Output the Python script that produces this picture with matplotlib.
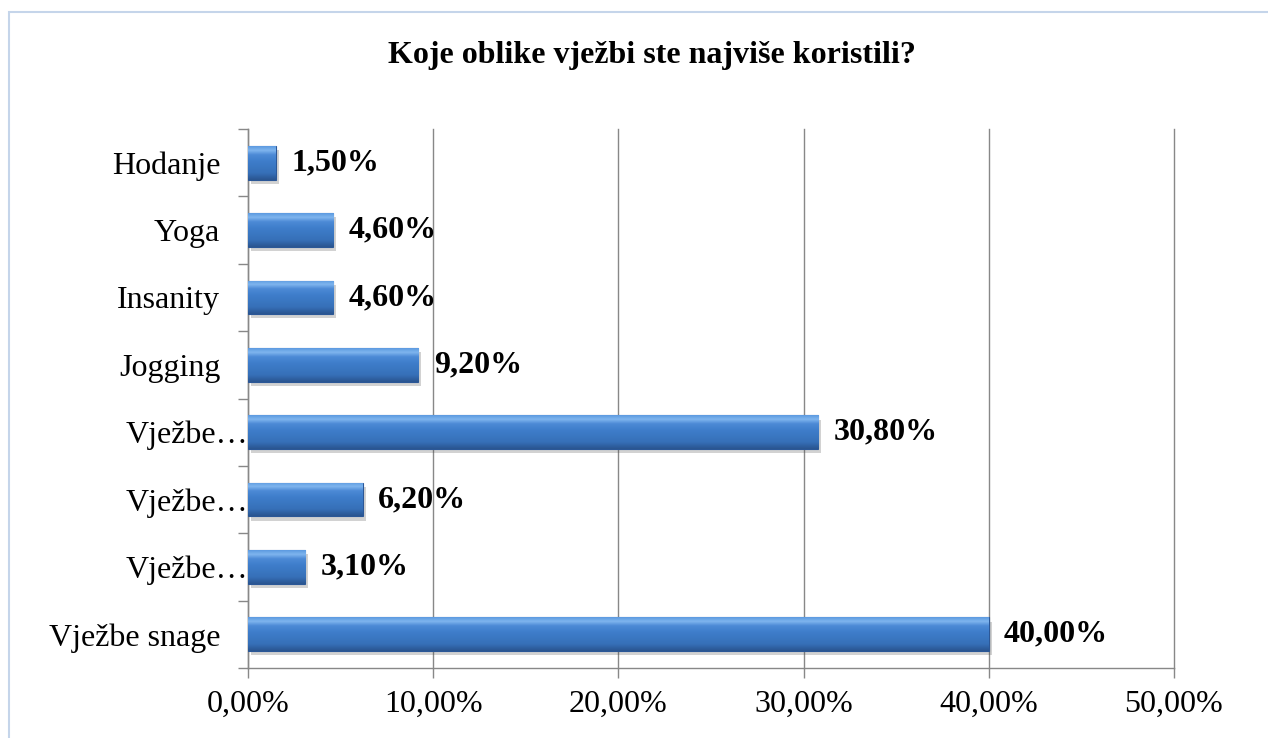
import numpy as np
import matplotlib
matplotlib.use('Agg')
import matplotlib.pyplot as plt
from matplotlib.colors import LinearSegmentedColormap
from matplotlib.patches import Rectangle
from matplotlib.transforms import ScaledTranslation
import matplotlib.patheffects as pe

# ─── Daten ────────────────────────────────────────────────────────────────────
categories = ['Vježbe snage', 'Vježbe…', 'Vježbe…', 'Vježbe…',
              'Jogging', 'Insanity', 'Yoga', 'Hodanje']
values = [40.00, 3.10, 6.20, 30.80, 9.20, 4.60, 4.60, 1.50]
x_ticks = [0, 10, 20, 30, 40, 50]
title = 'Koje oblike vježbi ste najviše koristili?'

plt.rcParams['font.family'] = ['Liberation Serif', 'DejaVu Serif']
FS = 23

fig = plt.figure(figsize=(12.68, 7.38), dpi=100)
fig.patch.set_facecolor('white')

# heller blauer Rahmen wie im Excel-Export
fig.patches.append(Rectangle((9 / 1268, -0.01), 1.2, 1 - 12 / 738 + 0.01,
                             transform=fig.transFigure, fill=False,
                             edgecolor='#c5d5ea', linewidth=1.5))

ax = fig.add_axes([248 / 1268, 1 - 668 / 738, (1174 - 248) / 1268, (668 - 129) / 738])

y = np.arange(len(categories))
bars = ax.barh(y, values, height=0.5, color='none', edgecolor='#2b5797',
               linewidth=0.8, zorder=3,
               path_effects=[pe.SimplePatchShadow(offset=(2, -3), alpha=0.25),
                             pe.Normal()])

# vertikaler Farbverlauf (Bevel-Look)
cmap = LinearSegmentedColormap.from_list(
    'bevel', [(0.0, '#2a5590'), (0.2, '#3670b8'), (0.55, '#3e7dca'),
              (0.75, '#4c8ad6'), (0.88, '#7fb5ee'), (1.0, '#5d9be0')])
grad = np.linspace(0, 1, 64).reshape(-1, 1)
for b in bars:
    x0, y0 = b.get_x(), b.get_y()
    w, h = b.get_width(), b.get_height()
    im = ax.imshow(grad, cmap=cmap, aspect='auto', origin='lower',
                   extent=[x0, x0 + w, y0, y0 + h], zorder=3.5,
                   interpolation='bilinear')
    im.set_clip_path(b)

labels = [f'{v:.2f}%'.replace('.', ',') for v in values]
ax.bar_label(bars, labels=labels, padding=11, fontsize=FS,
             fontweight='bold', color='black')

ax.set_xlim(0, 50)
ax.set_ylim(-0.5, len(categories) - 0.5)
ax.set_xticks(x_ticks)
ax.set_xticklabels([f'{t:.2f}%'.replace('.', ',') for t in x_ticks], fontsize=FS)
ax.set_yticks(y)
ax.set_yticklabels(categories, fontsize=FS)
ax.set_yticks(np.arange(-0.5, len(categories), 1), minor=True)

ax.tick_params(axis='y', which='major', length=0, pad=20)
ax.tick_params(axis='y', which='minor', length=7, color='#888888', width=1)
ax.tick_params(axis='x', which='major', length=7, color='#888888', width=1, pad=9)

# abgeschnittene Excel-Labels ragen bis an die Achse
shift = ScaledTranslation(20 / 72, 0, fig.dpi_scale_trans)
for lbl in ax.get_yticklabels():
    if lbl.get_text().endswith('…'):
        lbl.set_transform(lbl.get_transform() + shift)

ax.grid(axis='x', color='#888888', linewidth=1, zorder=0)
for gl in ax.get_xgridlines():
    gl.set_clip_on(False)
ax.set_axisbelow(True)
for s in ['top', 'right']:
    ax.spines[s].set_visible(False)
for s in ['left', 'bottom']:
    ax.spines[s].set_color('#888888')
    ax.spines[s].set_linewidth(1)

fig.text(652 / 1268, 1 - 63 / 738, title, ha='center', va='baseline',
         fontsize=FS, fontweight='bold')

fig.savefig('out.png', dpi=100, facecolor='white')
plt.close(fig)
